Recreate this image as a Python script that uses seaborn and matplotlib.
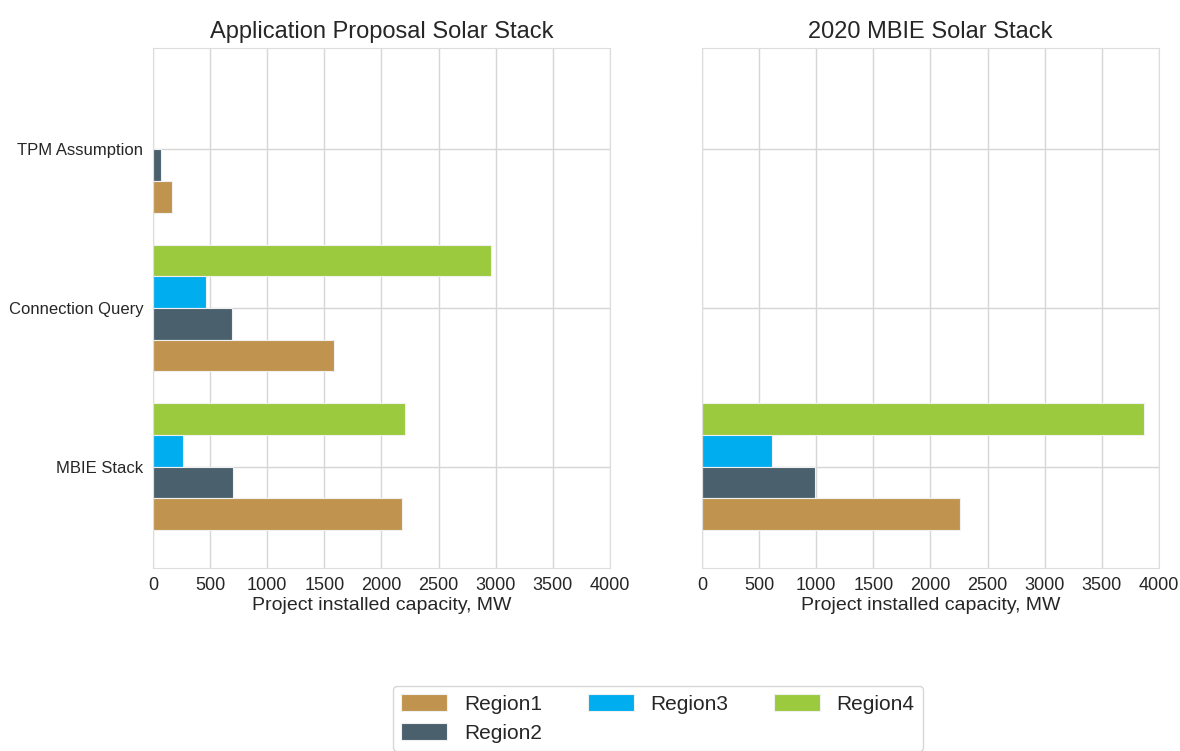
import pandas as pd
import matplotlib
matplotlib.use("Agg")
import matplotlib.pyplot as plt
import seaborn as sns

# data (MW)
categories = ["TPM Assumption", "Connection Query", "MBIE Stack"]
regions = ["Region1", "Region2", "Region3", "Region4"]

proposal_region1 = [165, 1580, 2180]
proposal_region2 = [70, 695, 700]
proposal_region3 = [0, 460, 260]
proposal_region4 = [0, 2955, 2205]

mbie_region1 = [0, 0, 2255]
mbie_region2 = [0, 0, 990]
mbie_region3 = [0, 0, 615]
mbie_region4 = [0, 0, 3865]

colors = {"Region1": "#C0944F", "Region2": "#4A616D",
          "Region3": "#00AEEF", "Region4": "#9BCA3E"}


def to_long(vals):
    rows = []
    for reg, v in zip(regions, vals):
        for cat, x in zip(categories, v):
            rows.append({"category": cat, "region": reg, "capacity": x})
    return pd.DataFrame(rows)


df_prop = to_long([proposal_region1, proposal_region2, proposal_region3, proposal_region4])
df_mbie = to_long([mbie_region1, mbie_region2, mbie_region3, mbie_region4])

sns.set_style("whitegrid")
plt.rcParams["font.family"] = ["Liberation Sans", "DejaVu Sans"]

fig = plt.figure(figsize=(11.8, 7.51), dpi=100)
ax1 = fig.add_axes([0.1297, 0.2437, 0.3872, 0.6924])
ax2 = fig.add_axes([0.5949, 0.2437, 0.3873, 0.6924])

for ax, df, title in [(ax1, df_prop, "Application Proposal Solar Stack"),
                      (ax2, df_mbie, "2020 MBIE Solar Stack")]:
    sns.barplot(data=df, x="capacity", y="category", hue="region", orient="h",
                order=categories, hue_order=regions[::-1], palette=colors,
                saturation=1, edgecolor="#f0f0f0", linewidth=0.8, ax=ax, legend=True)
    ax.set_xlim(0, 4000)
    ax.set_xticks(range(0, 4001, 500))
    ax.set_ylim(2.64, -0.64)
    ax.set_axisbelow(True)
    ax.grid(True, axis="both", color="#d6d6d6", linewidth=1)
    ax.set_title(title, fontsize=17, color=".15", pad=7)
    ax.set_xlabel("Project installed capacity, MW", fontsize=14, color=".15", labelpad=2)
    ax.set_ylabel("")
    ax.tick_params(axis="x", labelsize=13, colors=".15", pad=3)
    ax.tick_params(axis="y", labelsize=12, colors=".15")
    for s in ax.spines.values():
        s.set_color("#dddddd")

ax2.set_yticklabels([])

handles, labels = ax1.get_legend_handles_labels()
lookup = dict(zip(labels, handles))
ax1.get_legend().remove()
ax2.get_legend().remove()
fig.legend([lookup[r] for r in regions], regions, ncol=3, loc="upper center",
           bbox_to_anchor=(0.5576, 0.101), fontsize=15, frameon=True,
           handlelength=2.2, handleheight=0.9, columnspacing=2.2,
           handletextpad=0.8, borderpad=0.4, labelspacing=0.45)

fig.savefig("out.png", dpi=100)
